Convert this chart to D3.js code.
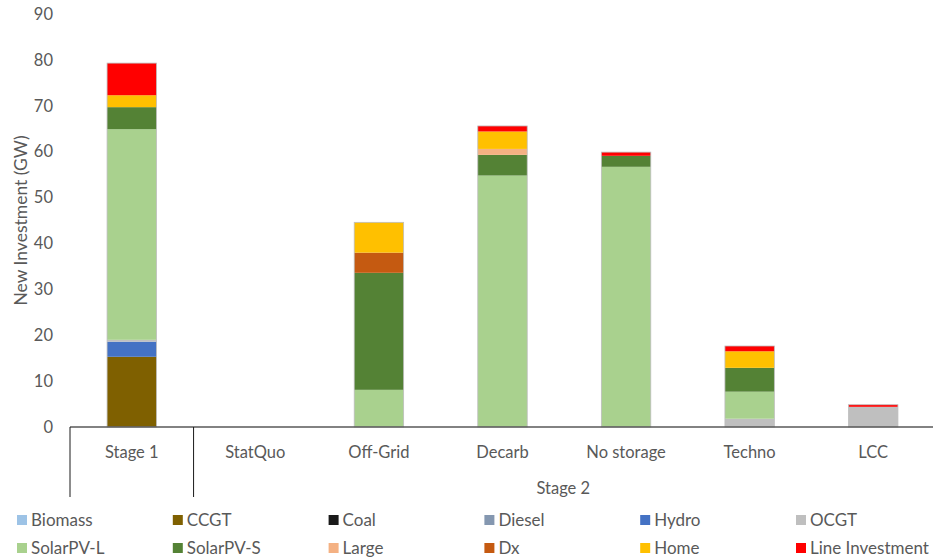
<!DOCTYPE html>
<html>
<head>
<meta charset="utf-8">
<script src="https://cdn.jsdelivr.net/npm/d3@7"></script>
<style>
  html, body { margin: 0; padding: 0; background: #fff; }
  svg { display: block; font-family: Lato, "Open Sans", sans-serif; }
</style>
</head>
<body>
<svg id="chart" width="933" height="560"></svg>
<script>
// Scenario categories along the x axis
const categories = ["Stage 1", "StatQuo", "Off-Grid", "Decarb", "No storage", "Techno", "LCC"];

// Technology series (stack order, bottom to top) and their colours
const seriesNames = ["Biomass", "CCGT", "Coal", "Diesel", "Hydro", "OCGT",
                     "SolarPV-L", "SolarPV-S", "Large", "Dx", "Home", "Line Investment"];
const seriesColors = ["#9DC3E6", "#7F6000", "#1A1A1A", "#8497B0", "#4472C4", "#BFBFBF",
                      "#A9D18E", "#548235", "#F4B183", "#C55A11", "#FFC000", "#FF0000"];

// New investment per technology (GW), one value per category
const biomass        = [0,    0, 0,    0,    0,    0,    0];
const ccgt           = [15.3, 0, 0,    0,    0,    0,    0];
const coal           = [0,    0, 0,    0,    0,    0,    0];
const diesel         = [0,    0, 0,    0,    0,    0,    0];
const hydro          = [3.3,  0, 0,    0,    0,    0,    0];
const ocgt           = [0.4,  0, 0,    0,    0,    1.8,  4.4];
const solarPVL       = [45.9, 0, 8.1,  54.8, 56.7, 5.9,  0];
const solarPVS       = [4.8,  0, 25.5, 4.5,  2.4,  5.2,  0];
const large          = [0,    0, 0,    1.3,  0,    0,    0];
const dx             = [0,    0, 4.4,  0,    0,    0,    0];
const home           = [2.6,  0, 6.6,  3.8,  0,    3.6,  0];
const lineInvestment = [7.0,  0, 0,    1.2,  0.8,  1.15, 0.45];

// Axis ticks and group labels
const yTicks = [0, 10, 20, 30, 40, 50, 60, 70, 80, 90];
const groupLabels = ["Stage 2"];
const yTitle = "New Investment (GW)";

const seriesValues = [biomass, ccgt, coal, diesel, hydro, ocgt,
                      solarPVL, solarPVS, large, dx, home, lineInvestment];

// Rows for d3.stack
const rows = categories.map((c, i) => {
  const r = { category: c };
  seriesNames.forEach((s, j) => { r[s] = seriesValues[j][i]; });
  return r;
});
const stacked = d3.stack().keys(seriesNames)(rows);

const svg = d3.select("#chart");
const textColor = "#595959";

const x = d3.scaleBand()
  .domain(categories)
  .range([70, 935])
  .paddingInner(0.6)
  .paddingOuter(0.3);

const y = d3.scaleLinear().domain([0, 90]).range([427, 14]);

// Y tick labels
svg.append("g")
  .selectAll("text")
  .data(yTicks)
  .join("text")
  .attr("x", 53)
  .attr("y", d => y(d))
  .attr("dy", "0.35em")
  .attr("text-anchor", "end")
  .attr("fill", textColor)
  .attr("font-size", 16.5)
  .text(d => d);

// Y axis title
svg.append("text")
  .attr("transform", `translate(21,${y(45)}) rotate(-90)`)
  .attr("text-anchor", "middle")
  .attr("dy", "0.35em")
  .attr("fill", textColor)
  .attr("font-size", 17.5)
  .text(yTitle);

// Stacked bars
const layers = svg.append("g")
  .selectAll("g")
  .data(stacked)
  .join("g")
  .attr("fill", (d, i) => seriesColors[i]);

layers.selectAll("rect")
  .data(d => d.filter(p => p[1] - p[0] > 0))
  .join("rect")
  .attr("x", d => x(d.data.category))
  .attr("width", x.bandwidth())
  .attr("y", d => y(d[1]))
  .attr("height", d => y(d[0]) - y(d[1]));

// Light outline around each stack
const totals = rows.map((r, i) => ({
  category: r.category,
  total: d3.sum(seriesValues, v => v[i])
})).filter(d => d.total > 0);

svg.append("g")
  .selectAll("rect")
  .data(totals)
  .join("rect")
  .attr("x", d => x(d.category))
  .attr("width", x.bandwidth())
  .attr("y", d => y(d.total))
  .attr("height", d => y(0) - y(d.total))
  .attr("fill", "none")
  .attr("stroke", "#BDBDBD")
  .attr("stroke-width", 0.8);

// Category axis with the two-level grouping
const axisG = svg.append("g");
axisG.append("line")
  .attr("x1", x.range()[0]).attr("x2", 933)
  .attr("y1", y(0)).attr("y2", y(0))
  .attr("stroke", "#595959")
  .attr("stroke-width", 1.5);

const groupBoundary = x(categories[1]) - x.step() * x.paddingInner() / 2;
[x.range()[0], groupBoundary].forEach(px => {
  axisG.append("line")
    .attr("x1", px).attr("x2", px)
    .attr("y1", y(0)).attr("y2", 497)
    .attr("stroke", "#1A1A1A")
    .attr("stroke-width", 1);
});

axisG.selectAll("text.cat")
  .data(categories)
  .join("text")
  .attr("class", "cat")
  .attr("x", d => x(d) + x.bandwidth() / 2)
  .attr("y", 452)
  .attr("dy", "0.35em")
  .attr("text-anchor", "middle")
  .attr("fill", textColor)
  .attr("font-size", 16.5)
  .text(d => d);

axisG.append("text")
  .attr("x", (groupBoundary + 933) / 2)
  .attr("y", 488)
  .attr("dy", "0.35em")
  .attr("text-anchor", "middle")
  .attr("fill", textColor)
  .attr("font-size", 16.5)
  .text(groupLabels[0]);

// Legend: two rows of six
const legendStep = 155.8;
const legend = svg.append("g")
  .selectAll("g")
  .data(seriesNames)
  .join("g")
  .attr("transform", (d, i) => `translate(${17 + (i % 6) * legendStep},${i < 6 ? 520 : 548})`);

legend.append("rect")
  .attr("x", 0).attr("y", -5)
  .attr("width", 10).attr("height", 10)
  .attr("fill", (d, i) => seriesColors[i]);

legend.append("text")
  .attr("x", 14)
  .attr("y", 0)
  .attr("dy", "0.35em")
  .attr("fill", textColor)
  .attr("font-size", 17)
  .text(d => d);
</script>
</body>
</html>
